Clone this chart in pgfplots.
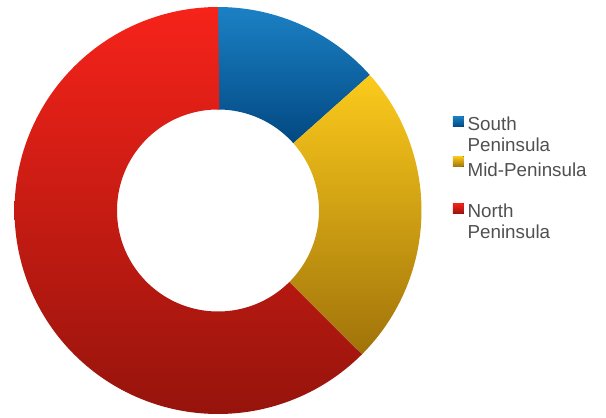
\documentclass[border=0pt]{standalone}
\usepackage{pgfplots}
\pgfplotsset{compat=1.18}
\usepackage{pgfplotstable}
\usepackage{fontspec}
\setmainfont{Liberation Sans}
\definecolor{txt}{RGB}{80,80,80}
\definecolor{blueT}{RGB}{27,129,196}
\definecolor{blueB}{RGB}{2,72,130}
\definecolor{yelT}{RGB}{252,203,28}
\definecolor{yelM}{RGB}{226,168,20}
\definecolor{yelB}{RGB}{160,115,10}
\definecolor{redT}{RGB}{246,35,26}
\definecolor{redM}{RGB}{218,30,22}
\definecolor{redB}{RGB}{150,20,12}

\pgfplotstableread{
region share
South 13.4
Mid 24.1
North 62.5
}\shares
\pgfplotstablegetelem{0}{share}\of\shares \let\sA\pgfplotsretval
\pgfplotstablegetelem{1}{share}\of\shares \let\sB\pgfplotsretval
\pgfplotstablegetelem{2}{share}\of\shares \let\sC\pgfplotsretval
\pgfmathsetmacro{\aA}{90}
\pgfmathsetmacro{\aB}{\aA-3.6*\sA}
\pgfmathsetmacro{\aC}{\aB-3.6*\sB}
\pgfmathsetmacro{\aD}{\aC-3.6*\sC}

\begin{document}
\begin{tikzpicture}
\begin{axis}[
  scale only axis, width=606pt, height=418pt,
  xmin=0, xmax=606, ymin=0, ymax=418,
  hide axis, clip=false,
  declare function={
    rr(\t)=(\t<1.005) ? 203.5 : 101;
    th(\t,\a,\b)=(\t<1.005) ? \a+(\b-\a)*min(\t,1) : \b-(\b-\a)*(\t-1.01)/0.99;
  },
  legend style={at={(axis cs:452.7,302.9)}, anchor=north west, draw=none, fill=none,
    inner sep=0pt, row sep=3pt,
    font=\fontsize{18.8}{21.3}\selectfont, text=txt,
    nodes={inner xsep=4pt, inner ysep=0pt, align=left}},
  legend cell align=left,
]
\addplot[draw=none, forget plot] coordinates {(0,0) (606,418)};
\addplot[draw=none, top color=blueT, middle color=blueT, bottom color=blueB,
  domain=0:2, samples=201, variable=\t,
  legend image code/.code={\fill[top color=blueT, bottom color=blueB] (0pt,7.24pt) rectangle (10.7pt,17.94pt);}]
  ({218+rr(\t)*cos(th(\t,\aA,\aB))},{207.5+rr(\t)*sin(th(\t,\aA,\aB))}) -- cycle;
\addlegendentry{\strut South\\\strut Peninsula}
\addplot[draw=none, top color=yelT, middle color=yelM, bottom color=yelB,
  domain=0:2, samples=201, variable=\t,
  legend image code/.code={\fill[top color=yelT, bottom color=yelB] (0pt,13.6pt) rectangle (10.7pt,24.3pt);}]
  ({218+rr(\t)*cos(th(\t,\aB,\aC))},{207.5+rr(\t)*sin(th(\t,\aB,\aC))}) -- cycle;
\addlegendentry{\strut Mid-Peninsula\\\rule[-24pt]{0pt}{24pt}}
\addplot[draw=none, top color=redT, middle color=redM, bottom color=redB,
  domain=0:2, samples=301, variable=\t,
  legend image code/.code={\fill[top color=redT, bottom color=redB] (0pt,7.24pt) rectangle (10.7pt,17.94pt);}]
  ({218+rr(\t)*cos(th(\t,\aC,\aD))},{207.5+rr(\t)*sin(th(\t,\aC,\aD))}) -- cycle;
\addlegendentry{\strut North\\\strut Peninsula}
\end{axis}
\end{tikzpicture}
\end{document}
